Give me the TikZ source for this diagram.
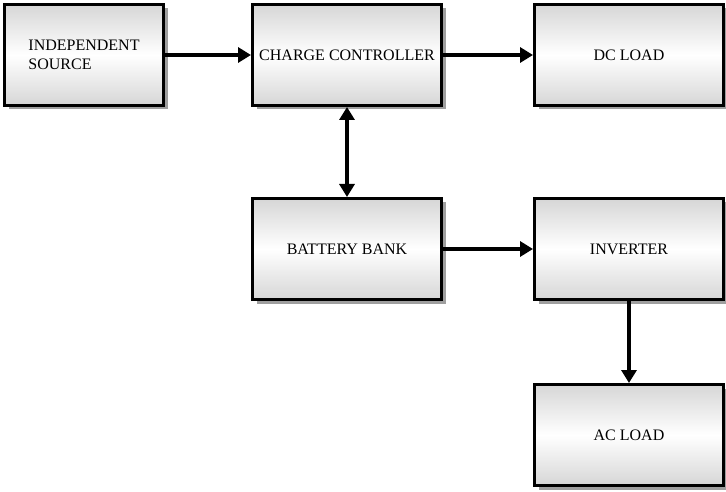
\documentclass[tikz,border=0pt]{standalone}
\usepackage{fontspec}
\setmainfont{Liberation Serif}
\usepackage{tikz}
\usetikzlibrary{arrows.meta, positioning, shadows}
\tikzstyle{block} = [rectangle, minimum width=189pt, minimum height=101pt, inner sep=0pt, text centered, draw=black, line width=3pt, top color=gray!32, bottom color=gray!32, middle color=white, drop shadow={shadow xshift=4pt, shadow yshift=-4pt, fill=gray!75, opacity=1}, font=\fontsize{16}{19}\selectfont]
\tikzstyle{arrow} = [line width=4pt, -{Triangle[length=13pt,width=15pt]}]
\tikzstyle{biarrow} = [line width=4pt, {Triangle[length=13pt,width=15pt]}-{Triangle[length=13pt,width=15pt]}]

\begin{document}
\begin{tikzpicture}[node distance=90pt]
    \useasboundingbox (0,0) rectangle (726pt,-492pt);
    \node[block, minimum width=159pt, align=left] (source) at (84pt,-55pt) {INDEPENDENT\\SOURCE};
    \node[block, right=86pt of source] (controller) {CHARGE CONTROLLER};
    \node[block, right=of controller] (dcload) {DC LOAD};
    \node[block, below=of controller] (battery) {BATTERY BANK};
    \node[block, right=of battery] (inverter) {INVERTER};
    \node[block, below=82pt of inverter] (acload) {AC LOAD};

    \draw[arrow] (source) -- (controller);
    \draw[arrow] (controller) -- (dcload);
    \draw[biarrow] (controller) -- (battery);
    \draw[arrow] (battery) -- (inverter);
    \draw[arrow] (inverter) -- (acload);
\end{tikzpicture}
\end{document}
